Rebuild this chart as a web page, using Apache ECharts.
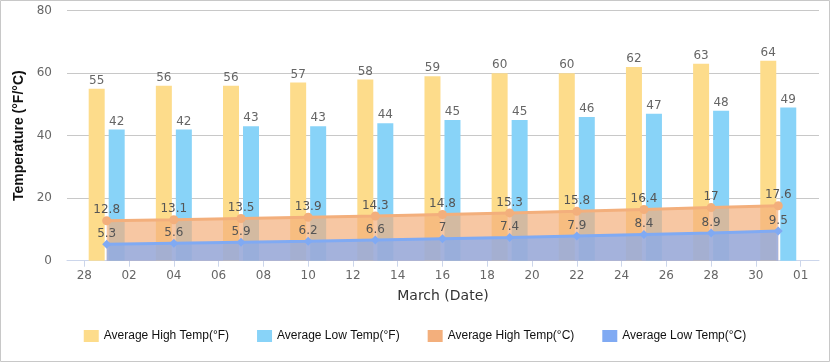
<!DOCTYPE html>
<html>
<head>
<meta charset="utf-8">
<script src="https://cdn.jsdelivr.net/npm/echarts@6/dist/echarts.min.js"></script>
<style>
html,body{margin:0;padding:0;background:#fff;}
#chart{width:830px;height:362px;}
</style>
</head>
<body>
<div id="chart"></div>
<script>
// Days of March (Feb 28 = day 0)
const marchDays = [1, 4, 7, 10, 13, 16, 19, 22, 25, 28, 31];
const highF = [55, 56, 56, 57, 58, 59, 60, 60, 62, 63, 64];
const lowF = [42, 42, 43, 43, 44, 45, 45, 46, 47, 48, 49];
const highC = [12.8, 13.1, 13.5, 13.9, 14.3, 14.8, 15.3, 15.8, 16.4, 17, 17.6];
const lowC = [5.3, 5.6, 5.9, 6.2, 6.6, 7, 7.4, 7.9, 8.4, 8.9, 9.5];
const tickDays = [0, 2, 4, 6, 8, 10, 12, 14, 16, 18, 20, 22, 24, 26, 28, 30, 32];
const tickLabels = ['28', '02', '04', '06', '08', '10', '12', '14', '16', '18', '20', '22', '24', '26', '28', '30', '01'];
const yTicks = [0, 20, 40, 60, 80];
const seriesNames = ['Average High Temp(°F)', 'Average Low Temp(°F)', 'Average High Temp(°C)', 'Average Low Temp(°C)'];

const pair = (vals) => marchDays.map((d, i) => [d, vals[i]]);
const labelFont = { fontFamily: 'DejaVu Sans', fontSize: 12 };

const chart = echarts.init(document.getElementById('chart'), null, { renderer: 'canvas' });
chart.setOption({
  animation: false,
  backgroundColor: '#fff',
  graphic: [{
    type: 'rect', silent: true, z: -10,
    shape: { x: 0.5, y: 0.5, width: 829, height: 361 },
    style: { fill: 'none', stroke: '#c8c8c8', lineWidth: 1 }
  }],
  grid: { left: 67, right: 11, top: 10.7, bottom: 101.3 },
  legend: {
    bottom: 15,
    left: 'center',
    icon: 'rect',
    itemWidth: 15,
    itemHeight: 12,
    itemGap: 28,
    textStyle: { fontFamily: 'Liberation Sans', fontSize: 12, color: '#111' },
    data: seriesNames
  },
  xAxis: {
    type: 'value',
    min: -0.773,
    max: 32.82,
    name: 'March (Date)',
    nameLocation: 'middle',
    nameGap: 29,
    nameTextStyle: { fontFamily: 'DejaVu Sans', fontSize: 14, color: '#333' },
    axisLine: { show: true, lineStyle: { color: '#ccd6eb', width: 1 } },
    axisTick: { show: true, length: 6, customValues: tickDays, lineStyle: { color: '#ccd6eb' } },
    axisLabel: {
      customValues: tickDays,
      margin: 9,
      color: '#666',
      fontFamily: 'DejaVu Sans', fontSize: 12,
      formatter: (v) => tickLabels[tickDays.indexOf(v)]
    },
    splitLine: { show: false }
  },
  yAxis: {
    type: 'value',
    min: 0, max: 80, interval: 20,
    name: 'Temperature (°F/°C)',
    nameLocation: 'middle',
    nameGap: 34,
    nameTextStyle: { fontFamily: 'Liberation Sans', fontSize: 14, fontWeight: 'bold', color: '#111' },
    axisLine: { show: false },
    axisTick: { show: false },
    axisLabel: { margin: 15, color: '#666', fontFamily: 'DejaVu Sans', fontSize: 12 },
    splitLine: { lineStyle: { color: '#c8c8c8', width: 1 } }
  },
  series: [
    {
      name: seriesNames[0], type: 'bar', data: pair(highF),
      barWidth: 16, barGap: '25%',
      itemStyle: { color: '#FDDC8B' },
      label: { show: true, position: 'top', distance: 2, color: '#666', ...labelFont }
    },
    {
      name: seriesNames[1], type: 'bar', data: pair(lowF),
      barWidth: 16, barGap: '25%',
      itemStyle: { color: '#88D3F8' },
      label: { show: true, position: 'top', distance: 2, color: '#666', ...labelFont }
    },
    {
      name: seriesNames[2], type: 'line', data: pair(highC),
      symbol: 'circle', symbolSize: 9,
      lineStyle: { color: '#F3AF7C', width: 3 },
      itemStyle: { color: '#F3AF7C' },
      areaStyle: { color: '#F3AF7C', opacity: 0.7 },
      label: { show: true, position: 'top', distance: 3, offset: [0, 3], color: '#555', ...labelFont },
      z: 3
    },
    {
      name: seriesNames[3], type: 'line', data: pair(lowC),
      symbol: 'diamond', symbolSize: 9,
      lineStyle: { color: '#80AAF3', width: 3 },
      itemStyle: { color: '#80AAF3' },
      areaStyle: { color: '#80AAF3', opacity: 0.7 },
      label: { show: true, position: 'top', distance: 3, offset: [0, 3], color: '#555', ...labelFont },
      z: 4
    }
  ]
});
</script>
</body>
</html>
